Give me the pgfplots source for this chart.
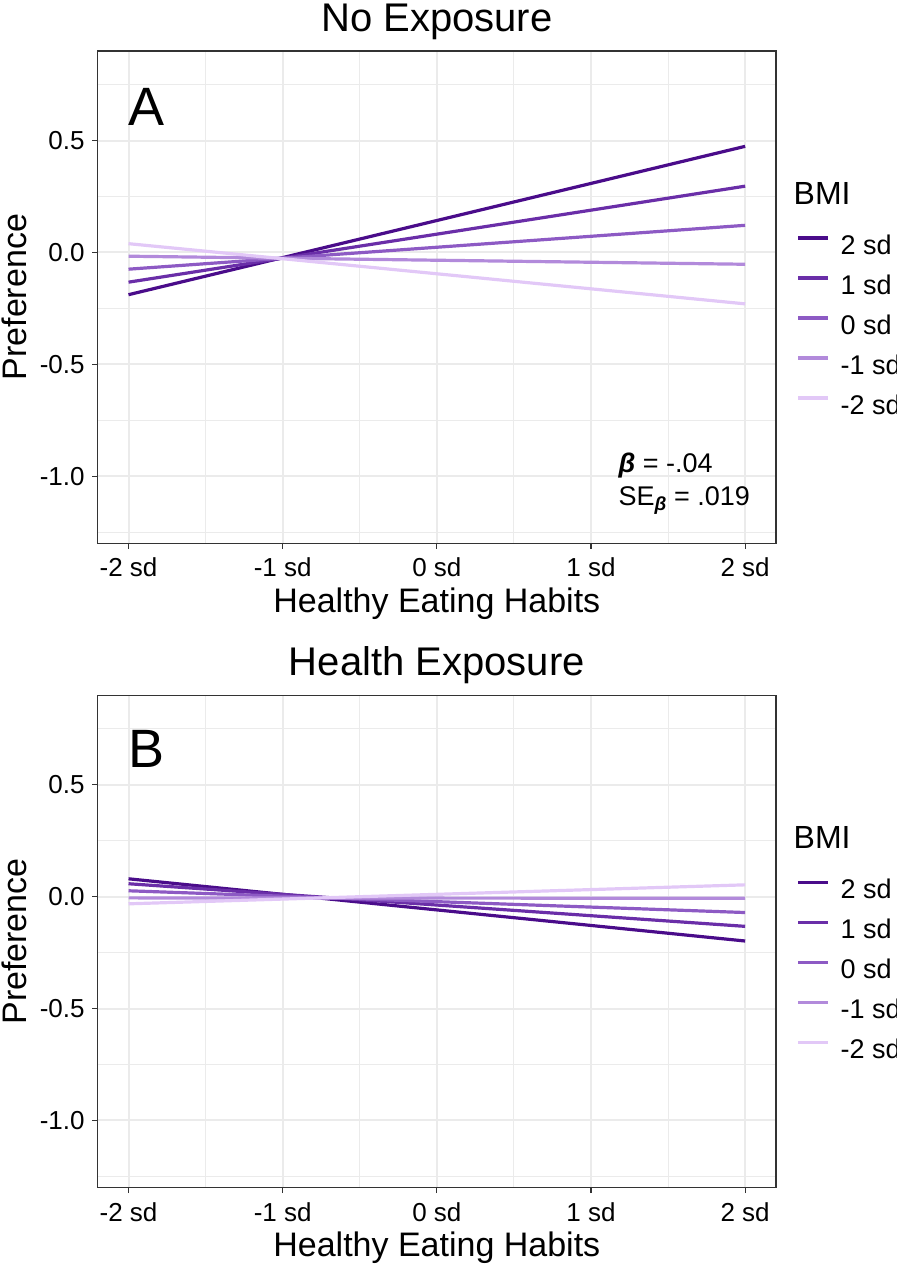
\documentclass[border=0pt]{standalone}
\usepackage{pgfplots}
\pgfplotsset{compat=1.18}
\usepackage{fontspec}
\setmainfont{Liberation Sans}
\definecolor{c2}{HTML}{4A0C8A}
\definecolor{c1}{HTML}{6A2EA8}
\definecolor{c0}{HTML}{8D5AC4}
\definecolor{cm1}{HTML}{B28ADB}
\definecolor{cm2}{HTML}{E2C8F7}
\definecolor{gridc}{HTML}{EBEBEB}
\definecolor{framec}{HTML}{333333}
\pgfplotsset{
  panel/.style={
    scale only axis, width=339.15pt, height=246.15pt,
    xmin=-2.2, xmax=2.2, ymin=-1.3, ymax=0.9,
    xtick={-2,-1,0,1,2}, xticklabels={-2 sd,-1 sd,0 sd,1 sd,2 sd},
    minor xtick={-1.5,-0.5,0.5,1.5},
    ytick={-1,-0.5,0,0.5}, yticklabels={-1.0,-0.5,0.0,0.5},
    minor ytick={-1.25,-0.75,-0.25,0.25,0.75},
    grid=both,
    major grid style={gridc, line width=1pt},
    minor grid style={gridc, line width=0.5pt},
    axis line style={framec, line width=0.6pt},
    tick align=outside, major tick length=2.75pt, minor tick length=0pt,
    tick style={framec, line width=0.6pt},
    xtick pos=left, ytick pos=left,
    tick label style={font=\fontsize{13}{15}\selectfont, text=black},
    xticklabel style={anchor=base, inner sep=0pt, yshift=-13.95pt},
    yticklabel style={anchor=east, inner sep=0pt, xshift=-3.6pt},
    title style={at={(axis description cs:0.5,1.04063)}, anchor=base, inner sep=0pt, yshift=-6pt, font=\fontsize{20}{24}\selectfont},
    xlabel style={at={(axis description cs:0.5,-0.1402)}, anchor=base, inner sep=0pt, font=\fontsize{17}{20}\selectfont},
    ylabel style={at={(axis description cs:-0.10467,0.5)}, anchor=base, inner sep=0pt, font=\fontsize{17}{20}\selectfont},
    xlabel={Healthy Eating Habits}, ylabel={Preference},
    legend style={at={(axis description cs:1.0305,0.6279)}, anchor=north west, draw=none, fill=none,
      inner sep=0pt, outer sep=0pt, font=\fontsize{13.5}{16}\selectfont, row sep=7pt, column sep=5.3pt,
      nodes={inner sep=0pt, text height=10pt, text depth=3pt}},
    legend cell align=left,
    legend image code/.code={\draw[#1, line width=1.7pt] (0pt,4.6pt) -- (15pt,4.6pt);},
  }
}
\begin{document}
\begin{tikzpicture}
\useasboundingbox (0,0) rectangle (448pt,-632.5pt);
% Panel A
\begin{axis}[panel, at={(48.85pt,-25.5pt)}, anchor=north west, title={No Exposure}]
\addplot[c2, line width=1.6pt] coordinates {(-2,-0.189) (2,0.474)};
\addlegendentry{2 sd}
\addplot[c1, line width=1.6pt] coordinates {(-2,-0.133) (2,0.296)};
\addlegendentry{1 sd}
\addplot[c0, line width=1.6pt] coordinates {(-2,-0.075) (2,0.121)};
\addlegendentry{0 sd}
\addplot[cm1, line width=1.6pt] coordinates {(-2,-0.017) (2,-0.053)};
\addlegendentry{-1 sd}
\addplot[cm2, line width=1.6pt] coordinates {(-2,0.039) (2,-0.230)};
\addlegendentry{-2 sd}
\end{axis}
\node[anchor=base west, inner sep=0pt, font=\fontsize{27}{30}\selectfont] at (64pt,-62.5pt) {A};
\node[anchor=base west, inner sep=0pt, font=\fontsize{16}{19}\selectfont] at (396.65pt,-102pt) {BMI};
\node[anchor=base west, inner sep=0pt, font=\fontsize{13.5}{16}\selectfont] at (309.15pt,-236pt) {\textbf{\textit{β}} = -.04};
\node[anchor=base west, inner sep=0pt, font=\fontsize{13.5}{16}\selectfont] at (309.15pt,-252.5pt) {SE\raisebox{-0.35ex}{\fontsize{9.5}{10}\selectfont\bfseries\itshape β} = .019};
% Panel B
\begin{axis}[panel, at={(48.85pt,-347.65pt)}, anchor=north west, title={Health Exposure}]
\addplot[c2, line width=1.6pt] coordinates {(-2,0.080) (2,-0.198)};
\addlegendentry{2 sd}
\addplot[c1, line width=1.6pt] coordinates {(-2,0.058) (2,-0.1325)};
\addlegendentry{1 sd}
\addplot[c0, line width=1.6pt] coordinates {(-2,0.0265) (2,-0.0707)};
\addlegendentry{0 sd}
\addplot[cm1, line width=1.6pt] coordinates {(-2,-0.0053) (2,-0.0071)};
\addlegendentry{-1 sd}
\addplot[cm2, line width=1.6pt] coordinates {(-2,-0.0318) (2,0.053)};
\addlegendentry{-2 sd}
\end{axis}
\node[anchor=base west, inner sep=0pt, font=\fontsize{27}{30}\selectfont] at (64pt,-383.5pt) {B};
\node[anchor=base west, inner sep=0pt, font=\fontsize{16}{19}\selectfont] at (396.65pt,-424.15pt) {BMI};
\end{tikzpicture}
\end{document}
